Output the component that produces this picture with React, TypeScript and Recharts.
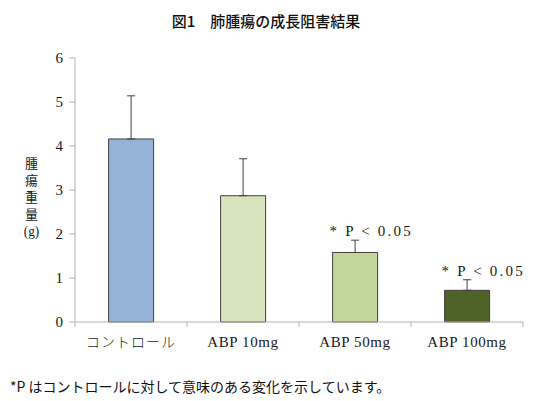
import { BarChart, Bar, XAxis, YAxis, Cell, ErrorBar, LabelList } from "recharts";

const groups = ["コントロール", "ABP 10mg", "ABP 50mg", "ABP 100mg"];
const weights = [4.16, 2.87, 1.58, 0.72];
const upperErrors = [0.98, 0.84, 0.28, 0.24];
const notes = ["", "", "* P < 0.05", "* P < 0.05"];
const colors = ["#95B3D7", "#D7E4BD", "#C3D69B", "#4F6228"];
const yTicks = [0, 1, 2, 3, 4, 5, 6];
const yLabel = "腫瘍重量";
const yLabelUnit = "(g)";

const rows = groups.map((name, i) => ({
  name,
  weight: weights[i],
  err: [0, upperErrors[i]],
  note: notes[i],
}));

const PLOT_LEFT = 75;
const PLOT_RIGHT = 523;
const BAND = (PLOT_RIGHT - PLOT_LEFT) / groups.length;
const serif = "'Liberation Serif', 'DejaVu Serif', serif";
const jp = "'Noto Sans CJK JP', 'Noto Sans', sans-serif";

const CategoryTick = (props: any) => {
  const { x, y, payload, index } = props;
  const left = x - BAND / 2;
  const isJp = /[^\x00-\x7F]/.test(payload.value);
  return (
    <g>
      <line x1={left} y1={y - 8} x2={left} y2={y - 3} stroke="#b3b3b3" />
      {index === groups.length - 1 && (
        <line x1={x + BAND / 2} y1={y - 8} x2={x + BAND / 2} y2={y - 3} stroke="#b3b3b3" />
      )}
      <text
        x={x}
        y={y + 17}
        textAnchor="middle"
        fontSize={isJp ? 14 : 15}
        fontFamily={isJp ? jp : serif}
        fontWeight={isJp ? 300 : 400}
        letterSpacing={isJp ? 1 : 0.6}
        fill="#1a1a1a"
      >
        {payload.value}
      </text>
    </g>
  );
};

// note text sits just above the error bar cap
const NoteLabel = (props: any) => {
  const { x, y, height, index } = props;
  const text = notes[index];
  if (!text) return null;
  const perUnit = height / weights[index];
  const top = y - upperErrors[index] * perUnit;
  return (
    <text x={x - 3} y={top - 4} fontSize={15} fontFamily={serif} letterSpacing={2.2} fill="#1a1a1a">
      {text}
    </text>
  );
};

export default function App() {
  return (
    <div style={{ position: "absolute", left: 0, top: 0, width: 540, height: 401, background: "#fff" }}>
      <div
        style={{
          position: "absolute",
          top: 10,
          left: 0,
          width: 532,
          textAlign: "center",
          fontFamily: jp,
          fontWeight: 500,
          fontSize: 15,
          color: "#111",
        }}
      >
        図1　肺腫瘍の成長阻害結果
      </div>
      <BarChart
        width={540}
        height={401}
        data={rows}
        margin={{ top: 58, right: 540 - PLOT_RIGHT, bottom: 49, left: 30 }}
        barCategoryGap="30%"
      >
        <XAxis
          dataKey="name"
          height={30}
          axisLine={{ stroke: "#b3b3b3" }}
          tickLine={false}
          tick={<CategoryTick />}
          interval={0}
        />
        <XAxis xAxisId="top" orientation="top" dataKey="name" height={0} tick={false} tickLine={false} axisLine={{ stroke: "#555" }} />
        <YAxis
          domain={[0, 6]}
          ticks={yTicks}
          width={45}
          axisLine={{ stroke: "#b3b3b3" }}
          tickLine={{ stroke: "#b3b3b3" }}
          tickSize={6}
          tickMargin={6}
          tick={{ fontSize: 15, fontFamily: serif, fill: "#1a1a1a" }}
        />
        <YAxis yAxisId="right" orientation="right" domain={[0, 6]} width={0} tick={false} tickLine={false} axisLine={{ stroke: "#555" }} />
        <Bar dataKey="weight" stroke="#404040" strokeWidth={1} isAnimationActive={false}>
          {rows.map((r, i) => (
            <Cell key={r.name} fill={colors[i]} />
          ))}
          <ErrorBar dataKey="err" direction="y" width={4} stroke="#404040" strokeWidth={1} isAnimationActive={false} />
          <LabelList dataKey="note" content={<NoteLabel />} />
        </Bar>
      </BarChart>
      {/* vertical y-axis title, unit kept upright */}
      <div
        style={{
          position: "absolute",
          top: 157,
          left: 22,
          writingMode: "vertical-rl",
          fontFamily: jp,
          fontSize: 13,
          fontWeight: 400,
          letterSpacing: "3.7px",
          lineHeight: "18px",
          color: "#222",
        }}
      >
        {yLabel}
        <span style={{ textCombineUpright: "all", fontFamily: serif, fontSize: 14, letterSpacing: 0 } as any}>
          {yLabelUnit}
        </span>
      </div>
      <div
        style={{
          position: "absolute",
          top: 376,
          left: 10,
          fontFamily: jp,
          fontSize: 14,
          color: "#111",
          whiteSpace: "nowrap",
        }}
      >
        *P はコントロールに対して意味のある変化を示しています。
      </div>
    </div>
  );
}
